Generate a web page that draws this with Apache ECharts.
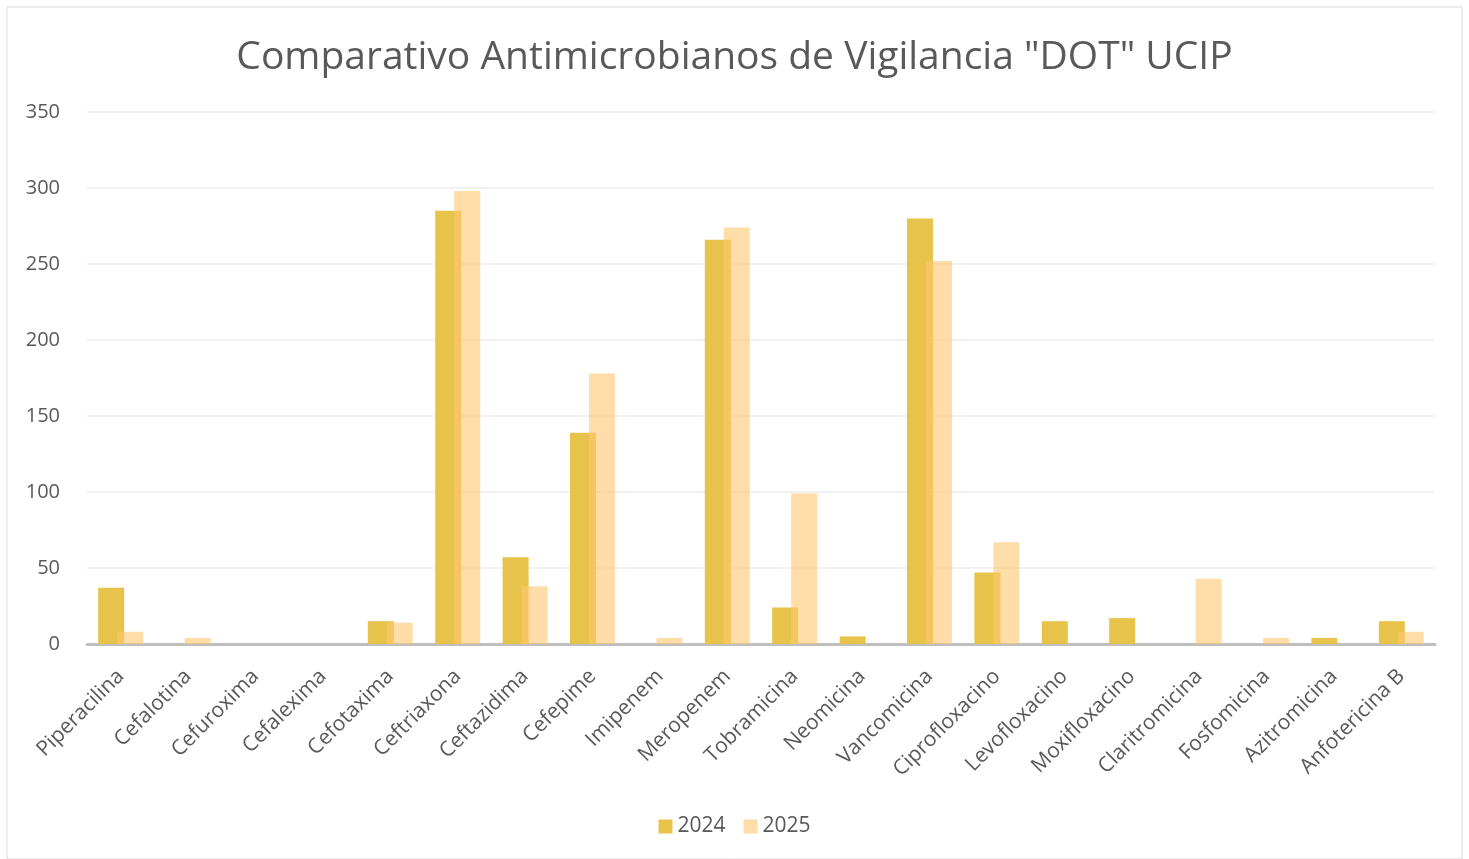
<!DOCTYPE html>
<html>
<head>
<meta charset="utf-8">
<script src="https://cdn.jsdelivr.net/npm/echarts@6/dist/echarts.min.js"></script>
<style>
  html, body { margin: 0; padding: 0; background: #fff; }
  #chart { width: 1469px; height: 859px; }
</style>
</head>
<body>
<div id="chart"></div>
<script>
// datos
const antimicrobianos = ['Piperacilina', 'Cefalotina', 'Cefuroxima', 'Cefalexima', 'Cefotaxima',
  'Ceftriaxona', 'Ceftazidima', 'Cefepime', 'Imipenem', 'Meropenem', 'Tobramicina', 'Neomicina',
  'Vancomicina', 'Ciprofloxacino', 'Levofloxacino', 'Moxifloxacino', 'Claritromicina',
  'Fosfomicina', 'Azitromicina', 'Anfotericina B'];
const dot2024 = [37, 0, 0, 0, 15, 285, 57, 139, 0, 266, 24, 5, 280, 47, 15, 17, 0, 0, 4, 15];
const dot2025 = [8, 4, 0, 0, 14, 298, 38, 178, 4, 274, 99, 0, 252, 67, 0, 0, 43, 4, 0, 8];
const yTicks = [0, 50, 100, 150, 200, 250, 300, 350];

const chart = echarts.init(document.getElementById('chart'));
const fuente = '"Open Sans", Lato, sans-serif';

const option = {
  backgroundColor: '#fff',
  textStyle: { fontFamily: fuente },
  title: {
    text: 'Comparativo Antimicrobianos de Vigilancia "DOT" UCIP',
    left: 'center',
    top: 33,
    textStyle: { fontSize: 39, fontWeight: 'normal', color: '#595959', fontFamily: fuente }
  },
  graphic: [{
    type: 'rect',
    shape: { x: 7, y: 7, width: 1455, height: 852 },
    style: { fill: 'none', stroke: '#d9d9d9', lineWidth: 1 },
    silent: true
  }],
  legend: {
    data: ['2024', '2025'],
    bottom: 17,
    left: 'center',
    itemWidth: 14,
    itemHeight: 14,
    itemGap: 18,
    icon: 'rect',
    textStyle: { fontSize: 21, color: '#595959', fontFamily: fuente }
  },
  grid: { left: 87, right: 34, top: 112, bottom: 215 },
  xAxis: {
    type: 'category',
    data: antimicrobianos,
    axisLine: { lineStyle: { color: '#bfbfbf', width: 3 } },
    axisTick: { show: false },
    axisLabel: {
      rotate: 45,
      interval: 0,
      fontSize: 21,
      color: '#595959',
      margin: 29
    }
  },
  yAxis: {
    type: 'value',
    min: yTicks[0],
    max: yTicks[yTicks.length - 1],
    interval: 50,
    axisLine: { show: false },
    axisTick: { show: false },
    axisLabel: { fontSize: 20, color: '#595959', margin: 27 },
    splitLine: { lineStyle: { color: '#ececec', width: 1.5 } }
  },
  series: [
    {
      name: '2024',
      type: 'bar',
      data: dot2024,
      barWidth: 26,
      barGap: '-27%',
      itemStyle: { color: '#e8c34b' }
    },
    {
      name: '2025',
      type: 'bar',
      data: dot2025,
      barWidth: 26,
      itemStyle: { color: 'rgba(253,198,110,0.6)' }
    }
  ]
};

chart.setOption(option);
</script>
</body>
</html>
